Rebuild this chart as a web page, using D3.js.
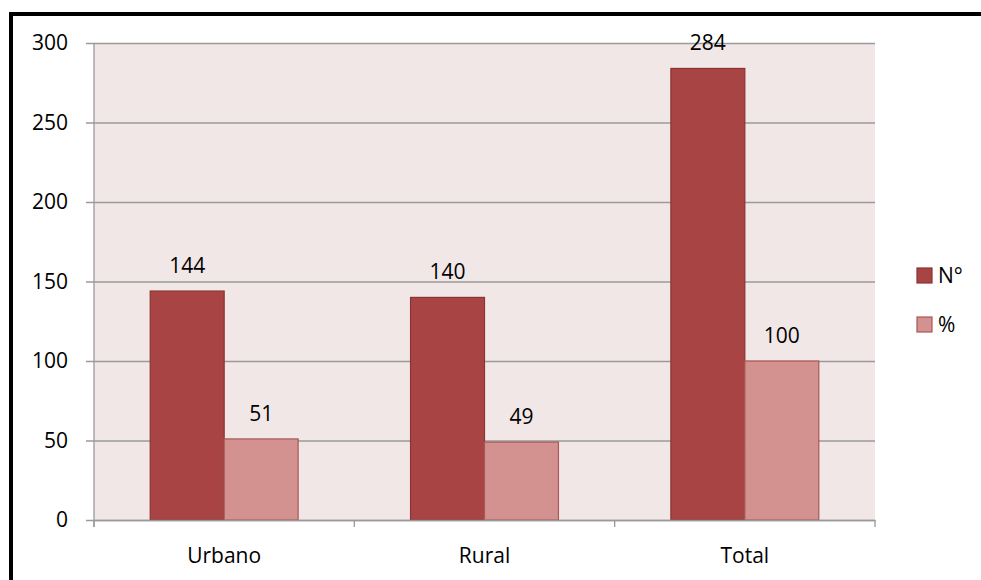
<!DOCTYPE html>
<html>
<head>
<meta charset="utf-8">
<script src="https://cdn.jsdelivr.net/npm/d3@7"></script>
<style>
  html, body { margin: 0; padding: 0; background: #fff; }
  svg { display: block; }
  text { font-family: "Open Sans", Lato, sans-serif; font-weight: 400; fill: #000; }
</style>
</head>
<body>
<svg id="chart" width="981" height="580"></svg>
<script>
// Data
const categories = ["Urbano", "Rural", "Total"];
const seriesNames = ["N°", "%"];
const countValues = [144, 140, 284];
const percentValues = [51, 49, 100];
const yTicks = [0, 50, 100, 150, 200, 250, 300];

const colors = { "N°": "#a84544", "%": "#d39190" };
const strokes = { "N°": "#8c3332", "%": "#a85857" };
const FS = 21;

const svg = d3.select("#chart");
const W = 981, H = 580;

// Frame: thick rule along top and left
svg.append("rect").attr("x", 9).attr("y", 12).attr("width", W - 9).attr("height", 4).attr("fill", "#000");
svg.append("rect").attr("x", 9).attr("y", 12).attr("width", 4).attr("height", H - 12).attr("fill", "#000");

const plot = { left: 94, right: 875, top: 43, bottom: 520 };

const x = d3.scaleBand().domain(categories).range([plot.left, plot.right]).paddingInner(0).paddingOuter(0);
const x1 = d3.scaleBand().domain(seriesNames).range([0, x.bandwidth()]).paddingInner(0).paddingOuter(0.76);
const y = d3.scaleLinear().domain([0, 300]).range([plot.bottom, plot.top]);

// Plot background
svg.append("rect")
  .attr("x", plot.left).attr("y", plot.top)
  .attr("width", plot.right - plot.left).attr("height", plot.bottom - plot.top)
  .attr("fill", "#f2e7e7");

// Gridlines and y ticks
const yAxis = d3.axisLeft(y).tickValues(yTicks).tickSize(-(plot.right - plot.left));
const gy = svg.append("g").attr("transform", `translate(${plot.left},0)`).call(yAxis);
gy.select(".domain").remove();
gy.selectAll(".tick line").attr("stroke", "#9a9a9a").attr("stroke-width", 1.3).attr("x1", -8);
gy.selectAll(".tick text").attr("font-size", FS).attr("x", -26);

// Left axis line
svg.append("line").attr("x1", plot.left).attr("x2", plot.left)
  .attr("y1", plot.top).attr("y2", plot.bottom + 7)
  .attr("stroke", "#9a9a9a").attr("stroke-width", 1.3);

// Bars
const rows = categories.map((c, i) => ({ cat: c, values: [
  { key: "N°", value: countValues[i] },
  { key: "%", value: percentValues[i] }
]}));

const groups = svg.append("g").selectAll("g").data(rows).join("g")
  .attr("transform", d => `translate(${x(d.cat)},0)`);

groups.selectAll("rect").data(d => d.values).join("rect")
  .attr("x", d => x1(d.key))
  .attr("y", d => y(d.value))
  .attr("width", x1.bandwidth())
  .attr("height", d => y(0) - y(d.value))
  .attr("fill", d => colors[d.key])
  .attr("stroke", d => strokes[d.key])
  .attr("stroke-width", 1.2);

groups.selectAll("text.val").data(d => d.values).join("text")
  .attr("class", "val")
  .attr("x", d => x1(d.key) + x1.bandwidth() / 2)
  .attr("y", d => y(d.value) - 18)
  .attr("text-anchor", "middle")
  .attr("font-size", FS)
  .text(d => d.value);

// Bottom axis
const xAxis = d3.axisBottom(x).tickSize(0).tickPadding(28);
const gx = svg.append("g").attr("transform", `translate(0,${plot.bottom})`).call(xAxis);
gx.select(".domain").attr("stroke", "#9a9a9a").attr("stroke-width", 1.3);
gx.selectAll(".tick text").attr("font-size", FS);

// Category boundary ticks
const bounds = categories.map(c => x(c)).concat([plot.right]);
svg.append("g").selectAll("line").data(bounds).join("line")
  .attr("x1", d => d).attr("x2", d => d)
  .attr("y1", plot.bottom).attr("y2", plot.bottom + 7)
  .attr("stroke", "#9a9a9a").attr("stroke-width", 1.3);

// Legend
const legend = svg.append("g").selectAll("g").data(seriesNames).join("g")
  .attr("transform", (d, i) => `translate(917,${268 + i * 49})`);
legend.append("rect").attr("width", 15).attr("height", 15)
  .attr("fill", d => colors[d]).attr("stroke", d => strokes[d]).attr("stroke-width", 1.2);
legend.append("text").attr("x", 21).attr("y", 15).attr("font-size", FS).text(d => d);
</script>
</body>
</html>
